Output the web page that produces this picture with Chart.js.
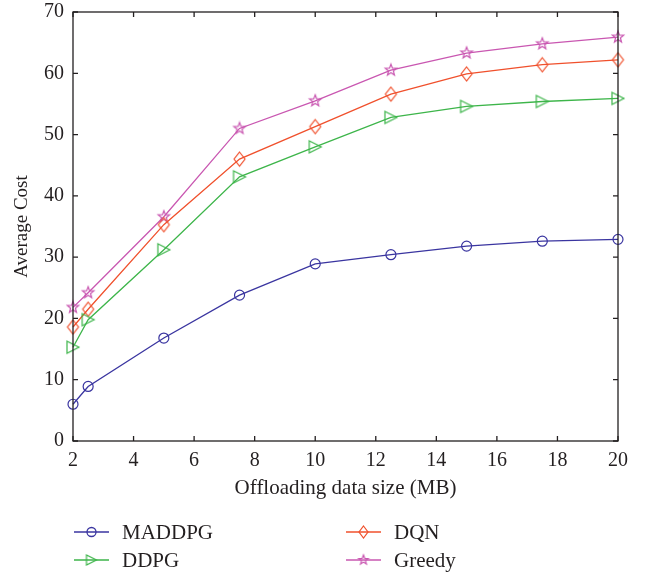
<!DOCTYPE html>
<html>
<head>
<meta charset="utf-8">
<script src="https://cdn.jsdelivr.net/npm/chart.js"></script>
<style>
  html, body { margin: 0; padding: 0; background: #fff; }
  #wrap { width: 651px; height: 576px; }
</style>
</head>
<body>
<div id="wrap"><canvas id="costChart"></canvas></div>
<script>
  // offloading data size (MB) and average cost per method
  const dataSizes = [2, 2.5, 5, 7.5, 10, 12.5, 15, 17.5, 20];
  const maddpgCost = [6.0, 8.9, 16.8, 23.8, 28.9, 30.4, 31.8, 32.6, 32.9];
  const ddpgCost = [15.3, 19.8, 31.2, 43.1, 48.0, 52.8, 54.6, 55.4, 55.9];
  const dqnCost = [18.6, 21.5, 35.3, 46.0, 51.3, 56.6, 59.9, 61.4, 62.2];
  const greedyCost = [21.8, 24.2, 36.6, 51.0, 55.5, 60.5, 63.3, 64.8, 65.9];
  const seriesNames = ['MADDPG', 'DDPG', 'DQN', 'Greedy'];
  const xTicks = [2, 4, 6, 8, 10, 12, 14, 16, 18, 20];
  const yTicks = [0, 10, 20, 30, 40, 50, 60, 70];

  const ink = '#231f20';
  const serif = '"Liberation Serif", "DejaVu Serif", serif';

  // outline marker drawn on a small canvas; pts are unit offsets from the centre
  function outlineMarker(color, pts, sx, sy) {
    const w = Math.ceil(sx * 2 + 4), h = Math.ceil(sy * 2 + 4);
    const c = document.createElement('canvas');
    c.width = w; c.height = h;
    const g = c.getContext('2d');
    g.beginPath();
    pts.forEach((p, i) => {
      const px = w / 2 + p[0] * sx, py = h / 2 + p[1] * sy;
      if (i) g.lineTo(px, py); else g.moveTo(px, py);
    });
    g.closePath();
    g.strokeStyle = color;
    g.lineWidth = 1.2;
    g.stroke();
    return c;
  }

  const starPts = [];
  for (let i = 0; i < 10; i++) {
    const rad = i % 2 ? 0.42 : 1;
    const a = -Math.PI / 2 + i * Math.PI / 5;
    starPts.push([rad * Math.cos(a), rad * Math.sin(a)]);
  }
  const diamondPts = [[0, -1], [1, 0], [0, 1], [-1, 0]];
  const rightTriPts = [[-1, -1], [1, 0], [-1, 1]];

  const colors = ['#3a35a0', '#3db54a', '#f0502c', '#c957b1'];
  const plotMarkers = [
    'circle',
    outlineMarker(colors[1], rightTriPts, 6, 6),
    outlineMarker(colors[2], diamondPts, 5.5, 7),
    outlineMarker(colors[3], starPts, 6, 6)
  ];
  const legendMarkers = [
    'circle',
    outlineMarker(colors[1], rightTriPts, 5, 5),
    outlineMarker(colors[2], diamondPts, 4.5, 6),
    outlineMarker(colors[3], starPts, 5, 5)
  ];
  const seriesValues = [maddpgCost, ddpgCost, dqnCost, greedyCost];

  const datasets = seriesNames.map((name, i) => ({
    label: name,
    data: dataSizes.map((x, j) => ({ x: x, y: seriesValues[i][j] })),
    borderColor: colors[i],
    backgroundColor: 'rgba(0,0,0,0)',
    borderWidth: 1.3,
    pointStyle: plotMarkers[i],
    pointRadius: 5,
    pointBorderColor: colors[i],
    pointBorderWidth: 1.2,
    pointBackgroundColor: 'rgba(0,0,0,0)',
    tension: 0,
    clip: false
  }));

  // box around the plot with inward tick marks on all four sides
  const frameTicks = {
    id: 'frameTicks',
    afterDatasetsDraw(chart) {
      const { ctx, chartArea: a, scales: { x, y } } = chart;
      const len = 5;
      ctx.save();
      ctx.strokeStyle = ink;
      ctx.lineWidth = 1.3;
      ctx.strokeRect(a.left, a.top, a.right - a.left, a.bottom - a.top);
      ctx.beginPath();
      x.ticks.forEach(t => {
        const px = x.getPixelForValue(t.value);
        ctx.moveTo(px, a.bottom); ctx.lineTo(px, a.bottom - len);
        ctx.moveTo(px, a.top); ctx.lineTo(px, a.top + len);
      });
      y.ticks.forEach(t => {
        const py = y.getPixelForValue(t.value);
        ctx.moveTo(a.left, py); ctx.lineTo(a.left + len, py);
        ctx.moveTo(a.right, py); ctx.lineTo(a.right - len, py);
      });
      ctx.stroke();
      ctx.restore();
    }
  };

  // two-column legend under the axis title
  const bottomLegend = {
    id: 'bottomLegend',
    afterDraw(chart) {
      const { ctx, chartArea: a } = chart;
      const cols = [a.left + 1, a.left + 273];
      const rows = [a.bottom + 91, a.bottom + 119];
      ctx.save();
      ctx.font = '21px ' + serif;
      ctx.textBaseline = 'middle';
      chart.data.datasets.forEach((ds, i) => {
        const x0 = cols[Math.floor(i / 2)];
        const yy = rows[i % 2];
        ctx.strokeStyle = colors[i];
        ctx.lineWidth = 1.3;
        ctx.beginPath();
        ctx.moveTo(x0, yy); ctx.lineTo(x0 + 35, yy);
        ctx.stroke();
        ctx.fillStyle = 'rgba(0,0,0,0)';
        Chart.helpers.drawPoint(ctx, {
          pointStyle: legendMarkers[i],
          radius: 4.5,
          rotation: 0,
          borderWidth: 1.2
        }, x0 + 17.5, yy);
        ctx.fillStyle = ink;
        ctx.fillText(ds.label, x0 + 48, yy + 1);
      });
      ctx.restore();
    }
  };

  new Chart(document.getElementById('costChart'), {
    type: 'line',
    data: { datasets: datasets },
    options: {
      responsive: true,
      maintainAspectRatio: false,
      animation: false,
      layout: { padding: { left: 0, top: 12, right: 33, bottom: 73 } },
      plugins: {
        legend: { display: false },
        tooltip: { enabled: false }
      },
      scales: {
        x: {
          type: 'linear',
          min: 2,
          max: 20,
          afterFit: s => { s.height = 62; s.paddingLeft = 0; s.paddingRight = 0; },
          afterBuildTicks: s => { s.ticks = xTicks.map(v => ({ value: v })); },
          grid: { display: false, drawTicks: false },
          border: { display: false },
          ticks: { color: ink, padding: 8, font: { family: serif, size: 20 } },
          title: {
            display: true,
            text: 'Offloading data size (MB)',
            color: ink,
            padding: { top: 0, bottom: 2 },
            font: { family: serif, size: 21 }
          }
        },
        y: {
          min: 0,
          max: 70,
          afterFit: s => { s.width = 73; s.paddingTop = 0; s.paddingBottom = 0; },
          afterBuildTicks: s => { s.ticks = yTicks.map(v => ({ value: v })); },
          grid: { display: false, drawTicks: false },
          border: { display: false },
          ticks: { color: ink, padding: 9, font: { family: serif, size: 20 } },
          title: {
            display: true,
            text: 'Average Cost',
            color: ink,
            padding: { top: 11, bottom: 0 },
            font: { family: serif, size: 19 }
          }
        }
      }
    },
    plugins: [frameTicks, bottomLegend]
  });
</script>
</body>
</html>
